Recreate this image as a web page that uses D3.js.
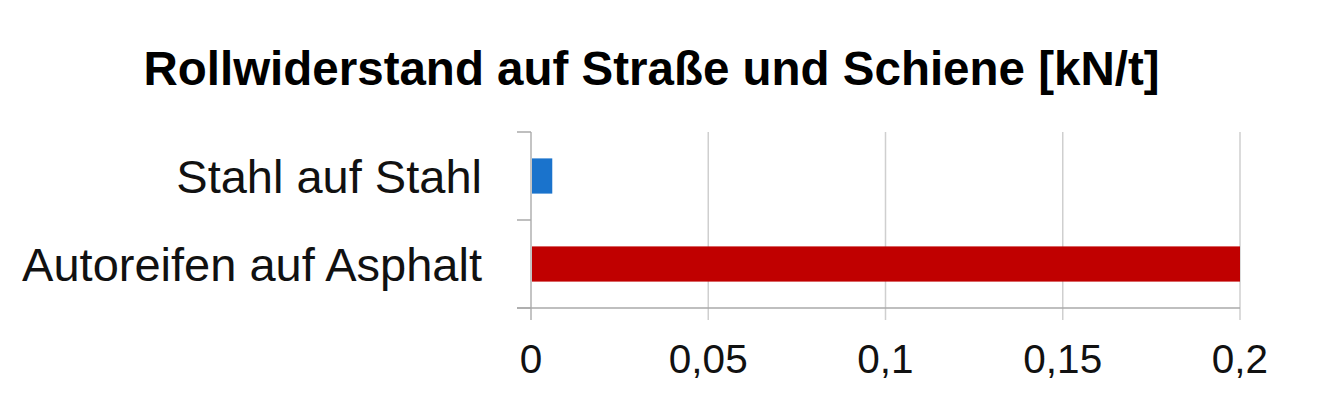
<!DOCTYPE html>
<html><head><meta charset="utf-8">
<script src="https://cdn.jsdelivr.net/npm/d3@7/dist/d3.min.js"></script>
<style>body{margin:0;background:#fff}svg{display:block}text{font-family:"Liberation Sans",Arial,sans-serif}</style>
</head><body>
<svg id="c" width="1334" height="403"></svg>
<script>
const categories = ["Stahl auf Stahl", "Autoreifen auf Asphalt"];
const values = [0.006, 0.2];
const colors = ["#1a73cc", "#c00000"];
const xTicks = [0, 0.05, 0.1, 0.15, 0.2];
const xTickLabels = ["0", "0,05", "0,1", "0,15", "0,2"];
const title = "Rollwiderstand auf Straße und Schiene [kN/t]";

const svg = d3.select("#c");
const x = d3.scaleLinear().domain([0, 0.2]).range([531, 1240]);
const y = d3.scaleBand().domain(categories).range([132, 308]).paddingInner(0.6).paddingOuter(0.3);

svg.append("text").attr("x", 651.5).attr("y", 85).attr("text-anchor", "middle")
  .attr("font-size", 47.5).attr("font-weight", "bold").attr("fill", "#000").text(title);

// gridlines
svg.append("g").selectAll("line").data(xTicks.slice(1)).join("line")
  .attr("x1", d => x(d)).attr("x2", d => x(d)).attr("y1", 132).attr("y2", 320)
  .attr("stroke", "#cfcfcf").attr("stroke-width", 1.5);

// bars
svg.append("g").selectAll("rect").data(categories).join("rect")
  .attr("x", x(0)).attr("y", d => y(d)).attr("height", y.bandwidth())
  .attr("width", (d, i) => x(values[i]) - x(0)).attr("fill", (d, i) => colors[i]);

// y axis line and ticks
svg.append("line").attr("x1", x(0)).attr("x2", x(0)).attr("y1", 132).attr("y2", 320)
  .attr("stroke", "#c4c4c4").attr("stroke-width", 2);
const step = y.step();
const bounds = [132, 132 + step, 132 + 2 * step];
svg.append("g").selectAll("line").data(bounds).join("line")
  .attr("x1", 517).attr("x2", x(0)).attr("y1", d => d).attr("y2", d => d)
  .attr("stroke", "#aaaaaa").attr("stroke-width", 1.5);
// x axis line
svg.append("line").attr("x1", 517).attr("x2", x(0.2)).attr("y1", 308).attr("y2", 308)
  .attr("stroke", "#aaaaaa").attr("stroke-width", 1.5);

// category labels
svg.append("g").selectAll("text").data(categories).join("text")
  .attr("x", 482).attr("y", d => y(d) + y.bandwidth() / 2 + 16.5)
  .attr("text-anchor", "end").attr("font-size", 47).attr("fill", "#111").text(d => d);

// tick labels
svg.append("g").selectAll("text").data(xTicks).join("text")
  .attr("x", d => x(d)).attr("y", 373).attr("text-anchor", "middle")
  .attr("font-size", 40.5).attr("fill", "#111").text((d, i) => xTickLabels[i]);
</script>
</body></html>
